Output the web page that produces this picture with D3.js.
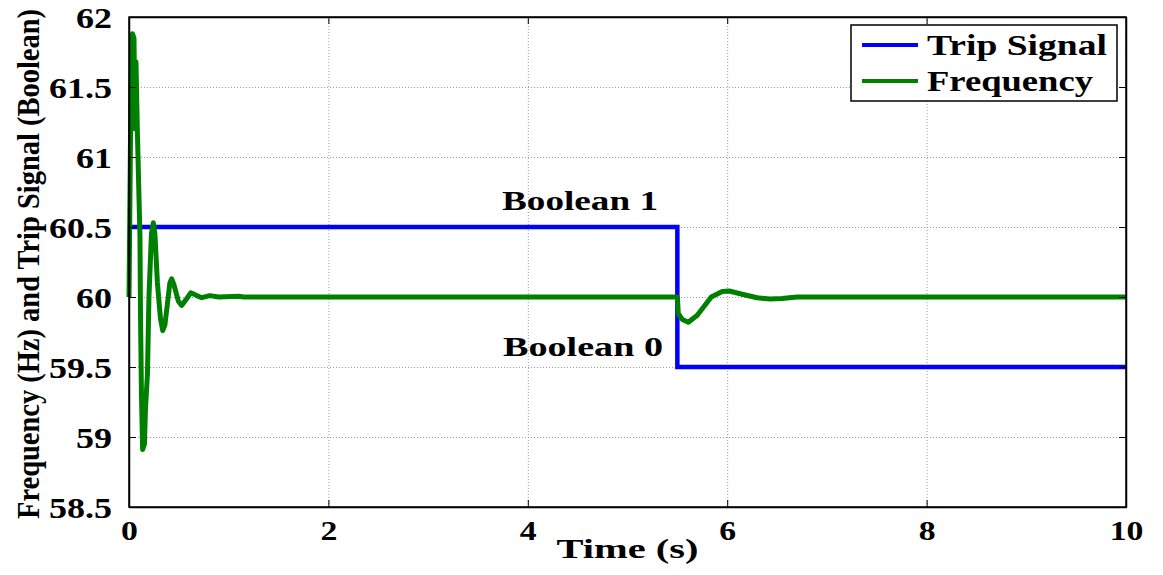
<!DOCTYPE html>
<html>
<head>
<meta charset="utf-8">
<script src="https://cdn.jsdelivr.net/npm/d3@7"></script>
<style>
  body { margin: 0; background: #fff; }
</style>
</head>
<body>
<div id="chart"></div>
<script>
// trip signal (drawn on the 60 +/- 0.5 scale)
const tripTime = [0, 5.5, 5.5, 10];
const tripValue = [60.5, 60.5, 59.5, 59.5];

// frequency
const freqTime = [0, 0.008, 0.02, 0.035, 0.05, 0.06, 0.07, 0.085, 0.11, 0.115, 0.125, 0.137,
  0.155, 0.165, 0.185, 0.2, 0.225, 0.244, 0.26, 0.285, 0.315, 0.338, 0.36, 0.385, 0.41,
  0.428, 0.45, 0.495, 0.528, 0.58, 0.62, 0.68, 0.73, 0.81, 0.9, 1.1, 1.15,
  5.5, 5.51, 5.55, 5.61, 5.7, 5.84, 5.95, 6.02, 6.15, 6.3, 6.43, 6.55, 6.7, 10];
const freqValue = [60, 60.6, 61.5, 61.88, 61.85, 61.2, 61.68, 61.15, 60.43, 59.9, 59.3, 58.91,
  58.95, 59.2, 59.45, 60.0, 60.45, 60.53, 60.45, 60.1, 59.85, 59.76, 59.8, 59.95, 60.1,
  60.13, 60.09, 59.97, 59.94, 59.99, 60.03, 60.01, 59.995, 60.01, 60.0, 60.005, 60,
  60, 59.88, 59.84, 59.82, 59.87, 60.0, 60.04, 60.043, 60.02, 59.995, 59.985, 59.99, 60, 60];

const xTicks = [0, 2, 4, 6, 8, 10];
const yTicks = [58.5, 59, 59.5, 60, 60.5, 61, 61.5, 62];

const seriesNames = ["Trip Signal", "Frequency"];
const seriesColors = ["#0000ff", "#008000"];

const width = 1163, height = 575;
const plotLeft = 129, plotRight = 1126, plotTop = 17, plotBottom = 507;
const serif = "'Liberation Serif', 'Times New Roman', Times, serif";

const svg = d3.select("#chart").append("svg")
  .attr("width", width)
  .attr("height", height);

const x = d3.scaleLinear().domain([0, 10]).range([plotLeft, plotRight]);
const y = d3.scaleLinear().domain([58.5, 62]).range([plotBottom, plotTop]);

// stretch text horizontally like the original picture
const stretch = (sel, k) => {
  sel.each(function () {
    const w = this.getComputedTextLength();
    d3.select(this).attr("textLength", w * k).attr("lengthAdjust", "spacingAndGlyphs");
  });
};

// grid
svg.append("g")
  .attr("transform", `translate(0,${plotBottom})`)
  .call(d3.axisBottom(x).tickValues(xTicks).tickSize(-(plotBottom - plotTop)).tickFormat(""))
  .call(g => g.select(".domain").remove())
  .selectAll("line")
  .attr("stroke", "#999")
  .attr("stroke-dasharray", "1,2");

svg.append("g")
  .attr("transform", `translate(${plotLeft},0)`)
  .call(d3.axisLeft(y).tickValues(yTicks).tickSize(-(plotRight - plotLeft)).tickFormat(""))
  .call(g => g.select(".domain").remove())
  .selectAll("line")
  .attr("stroke", "#999")
  .attr("stroke-dasharray", "1,2");

// lines
const tripData = tripTime.map((t, i) => [t, tripValue[i]]);
const freqData = freqTime.map((t, i) => [t, freqValue[i]]);
const line = d3.line().x(d => x(d[0])).y(d => y(d[1]));

svg.append("path")
  .datum(tripData)
  .attr("d", line)
  .attr("fill", "none")
  .attr("stroke", seriesColors[0])
  .attr("stroke-width", 4.5);

svg.append("path")
  .datum(freqData)
  .attr("d", line)
  .attr("fill", "none")
  .attr("stroke", seriesColors[1])
  .attr("stroke-width", 5)
  .attr("stroke-linejoin", "round");

// frame with inward ticks on every side
const tick = 7;
const bottomAxis = svg.append("g")
  .attr("transform", `translate(0,${plotBottom})`)
  .call(d3.axisBottom(x).tickValues(xTicks).tickSizeInner(-tick).tickSizeOuter(0).tickPadding(14));
const leftAxis = svg.append("g")
  .attr("transform", `translate(${plotLeft},0)`)
  .call(d3.axisLeft(y).tickValues(yTicks).tickSizeInner(-tick).tickSizeOuter(0).tickPadding(17)
    .tickFormat(d3.format("")));
svg.append("g")
  .attr("transform", `translate(0,${plotTop})`)
  .call(d3.axisTop(x).tickValues(xTicks).tickSizeInner(-tick).tickSizeOuter(0).tickFormat(""));
svg.append("g")
  .attr("transform", `translate(${plotRight},0)`)
  .call(d3.axisRight(y).tickValues(yTicks).tickSizeInner(-tick).tickSizeOuter(0).tickFormat(""));

svg.selectAll(".domain").attr("stroke", "#000").attr("stroke-width", 1.5);
svg.selectAll(".tick line").filter(function () { return !this.getAttribute("stroke-dasharray"); })
  .attr("stroke", "#000");

svg.append("rect")
  .attr("x", plotLeft).attr("y", plotTop)
  .attr("width", plotRight - plotLeft).attr("height", plotBottom - plotTop)
  .attr("fill", "none").attr("stroke", "#000").attr("stroke-width", 1.5);

bottomAxis.selectAll("text")
  .style("font-family", serif)
  .style("font-weight", "bold")
  .style("font-size", "27px")
  .attr("fill", "#000")
  .call(stretch, 1.25);
leftAxis.selectAll("text")
  .style("font-family", serif)
  .style("font-weight", "bold")
  .style("font-size", "30px")
  .attr("fill", "#000")
  .attr("dy", "0.34em")
  .call(stretch, 1.2);

const label = (sel, size, len) => sel
  .style("font-family", serif)
  .style("font-weight", "bold")
  .style("font-size", size + "px")
  .attr("textLength", len)
  .attr("lengthAdjust", "spacingAndGlyphs");

// axis titles
svg.append("text")
  .attr("x", (plotLeft + plotRight) / 2)
  .attr("y", 558)
  .attr("text-anchor", "middle")
  .text("Time (s)")
  .call(label, 27, 142);

svg.append("text")
  .attr("transform", "translate(39,264) rotate(-90)")
  .attr("text-anchor", "middle")
  .text("Frequency (Hz) and Trip Signal (Boolean)")
  .call(label, 31, 510);

// annotations
svg.append("text")
  .attr("x", 502).attr("y", 210)
  .text("Boolean 1")
  .call(label, 27, 156);

svg.append("text")
  .attr("x", 503).attr("y", 356)
  .text("Boolean 0")
  .call(label, 27, 160);

// legend
const legend = svg.append("g");
legend.append("rect")
  .attr("x", 851).attr("y", 25)
  .attr("width", 266).attr("height", 76)
  .attr("fill", "#fff").attr("stroke", "#000").attr("stroke-width", 1.5);

const legendLen = [180, 166];
seriesNames.forEach((name, i) => {
  const ly = 45 + i * 36;
  legend.append("line")
    .attr("x1", 862).attr("x2", 918)
    .attr("y1", ly).attr("y2", ly)
    .attr("stroke", seriesColors[i])
    .attr("stroke-width", 4);
  legend.append("text")
    .attr("x", 927).attr("y", ly + 10)
    .text(name)
    .call(label, 29, legendLen[i]);
});
</script>
</body>
</html>
